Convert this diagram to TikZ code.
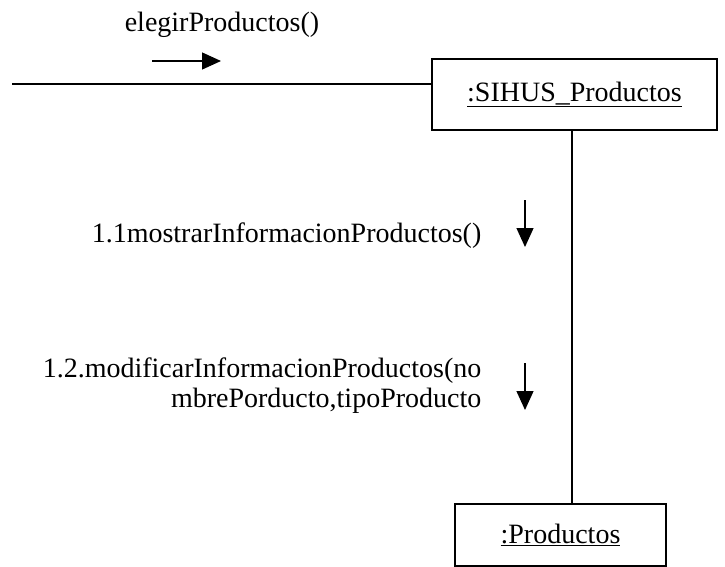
\documentclass[tikz,border=0pt]{standalone}
\usepackage{fontspec}
\setmainfont{Liberation Serif}
\usetikzlibrary{arrows.meta}

\begin{document}
\begin{tikzpicture}
				[x=1pt, y=-1pt, line width=1.3pt,
				every node/.style = {font=\rmfamily\fontsize{28}{30}\selectfont, inner sep=0pt},
				objeto/.style = {draw, rectangle},
				msg/.style = {-{Triangle[length=19pt,width=17pt]}}]
				\useasboundingbox (0,0) rectangle (725,567);
				\node[objeto, minimum width=285, minimum height=71] (sihus) at (574.5,94.5) {\underline{:SIHUS\_Productos}};
				\node[objeto, minimum width=211, minimum height=62] (prod) at (560.5,535) {\underline{:Productos}};
				\node (elegir) at (222,25) {elegirProductos()};
				\node[anchor=east] (mostrar) at (482,236) {1.1mostrarInformacionProductos()};
				\node[anchor=east, align=right] (modificar) at (482,386) {1.2.modificarInformacionProductos(no\\mbrePorducto,tipoProducto};
				\coordinate (actor) at (12,84);
				\coordinate (e1) at (152,61);
				\coordinate (e2) at (221,61);
				\coordinate (m1) at (525,200);
				\coordinate (m2) at (525,247);
				\coordinate (n1) at (525,363);
				\coordinate (n2) at (525,410);
				\draw (actor)--(actor -| sihus.west);
				\draw ([xshift=-2.5pt]sihus.south)--([xshift=-2.5pt]sihus.south |- prod.north);
				\draw[msg] (e1)--(e2);
				\draw[msg] (m1)--(m2);
				\draw[msg] (n1)--(n2);
			\end{tikzpicture}
\end{document}
